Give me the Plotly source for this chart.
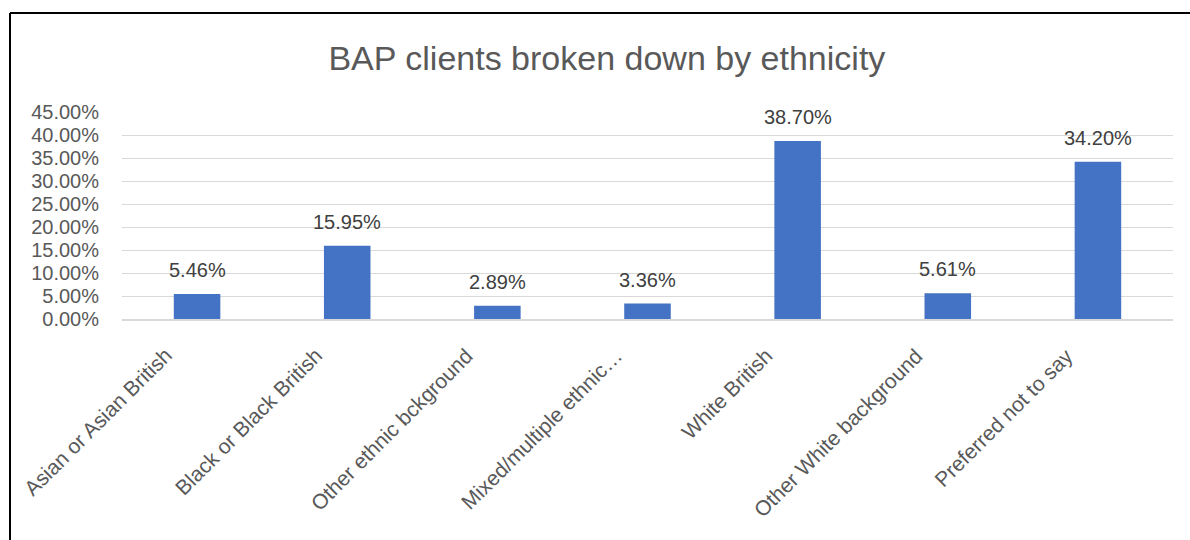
import plotly.graph_objects as go

categories = [
    "Asian or Asian British",
    "Black or Black British",
    "Other ethnic bckground",
    "Mixed/multiple ethnic…",
    "White British",
    "Other White background",
    "Preferred not to say",
]
values = [0.0546, 0.1595, 0.0289, 0.0336, 0.3870, 0.0561, 0.3420]
y_ticks = [0, 0.05, 0.10, 0.15, 0.20, 0.25, 0.30, 0.35, 0.40, 0.45]

FONT = "Liberation Sans"
W, H = 1190, 540
ML, MR, MT, MB = 122, 17, 112, 221
pw, ph = W - ML - MR, H - MT - MB

fig = go.Figure(go.Bar(
    x=categories, y=values,
    marker=dict(color="#4472C4", line=dict(width=0)),
    hoverinfo="x+y",
))

# value labels above bars
for c, v in zip(categories, values):
    fig.add_annotation(x=c, y=v, xref="x", yref="y", text=f"{v:.2%}",
                       showarrow=False, yanchor="middle", yshift=24,
                       font=dict(family=FONT, size=20, color="#404040"))
    # rotated category labels
    fig.add_annotation(x=c, y=0, xref="x", yref="y", text=c,
                       showarrow=False, textangle=-45,
                       xanchor="right", yanchor="top", xshift=-18, yshift=-22,
                       font=dict(family=FONT, size=21, color="#595959"))

# chart border (left and top edges visible)
def px_x(x):
    return (x - ML) / pw

def px_y(y):
    return 1 - (y - MT) / ph

fig.add_shape(type="line", xref="paper", yref="paper",
              x0=px_x(10), x1=px_x(10), y0=px_y(13), y1=px_y(560),
              line=dict(color="black", width=2))
fig.add_shape(type="line", xref="paper", yref="paper",
              x0=px_x(10), x1=px_x(1200), y0=px_y(13), y1=px_y(13),
              line=dict(color="black", width=2))

fig.update_layout(
    width=W, height=H,
    margin=dict(l=ML, r=MR, t=MT, b=MB, autoexpand=False),
    paper_bgcolor="white", plot_bgcolor="white",
    bargap=0.69,
    showlegend=False,
    title=dict(text="BAP clients broken down by ethnicity",
               x=0.51, xref="container", xanchor="center",
               y=1 - 58 / H, yref="container", yanchor="middle",
               font=dict(family=FONT, size=34, color="#595959")),
    font=dict(family=FONT, color="#595959"),
)
fig.update_yaxes(range=[0, 0.45], tickvals=y_ticks, tickformat=".2%",
                 showgrid=True, gridcolor="#D9D9D9", gridwidth=1,
                 zeroline=False, showline=False,
                 ticks="", ticklabelstandoff=22,
                 tickfont=dict(family=FONT, size=20, color="#595959"))
fig.update_xaxes(range=[-0.5, len(categories) - 0.5], autorange=False,
                 showticklabels=False, showline=True, linecolor="#D9D9D9", linewidth=2,
                 showgrid=False, ticks="")

fig.write_html("out.html")
